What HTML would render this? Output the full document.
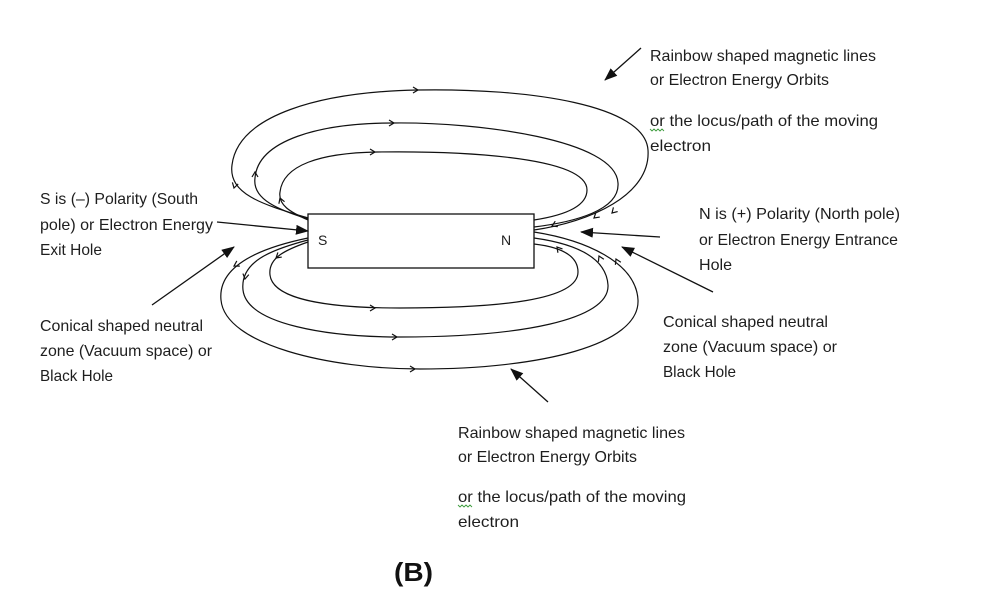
<!DOCTYPE html>
<html>
<head>
<meta charset="utf-8">
<style>
html,body{margin:0;padding:0;background:#fff;}
svg{display:block;}
text{font-family:"Liberation Sans",Arial,sans-serif;fill:#1e1e1e;}
</style>
</head>
<body>
<svg width="1000" height="606" viewBox="0 0 1000 606" xmlns="http://www.w3.org/2000/svg" font-size="16">
<defs>
<marker id="ah" markerUnits="userSpaceOnUse" markerWidth="14" markerHeight="12" refX="12" refY="5" orient="auto">
<path d="M0,0 L13,5 L0,10 Z" fill="#111"/>
</marker>
</defs>

<!-- Magnet -->
<rect x="308" y="214" width="226" height="54" fill="#fff" stroke="#111" stroke-width="1.3"/>
<text x="318" y="245" style="font-size:14px">S</text>
<text x="501" y="245" style="font-size:14px">N</text>

<g fill="none" stroke="#111" stroke-width="1.2">
<!-- top loops -->
<path d="M308,218 C265,205 228,195 232,165 C238,115 320,92 417,90 C530,88 645,105 648,150 C651,195 590,222 534,230"/>
<path d="M308,219 C280,210 252,200 255,178 C258,140 320,123 393,123 C480,122 616,140 618,183 C620,210 575,222 534,227"/>
<path d="M308,220 C290,212 278,205 280,192 C283,165 320,153 377,152 C450,151 587,155 587,190 C587,208 560,216 534,220"/>
<!-- bottom loops -->
<path d="M308,242 C285,250 268,258 270,275 C273,300 330,308 400,308 C500,308 578,300 578,272 C578,255 560,247 534,244"/>
<path d="M308,240 C270,250 240,262 243,290 C247,325 330,337 400,337 C520,337 610,320 608,285 C606,255 570,243 534,238"/>
<path d="M308,238 C250,250 218,270 221,300 C225,345 330,369 420,369 C540,369 640,345 638,300 C636,262 585,240 534,232"/>
</g>

<!-- small flow arrowheads -->
<g fill="none" stroke="#111" stroke-width="1.2">
<path d="M-5,-3 L0,0 L-5,3" transform="translate(418,90)"/>
<path d="M-5,-3 L0,0 L-5,3" transform="translate(394,123)"/>
<path d="M-5,-3 L0,0 L-5,3" transform="translate(375,152)"/>
<path d="M-5,-3 L0,0 L-5,3" transform="translate(375,308)"/>
<path d="M-5,-3 L0,0 L-5,3" transform="translate(397,337)"/>
<path d="M-5,-3 L0,0 L-5,3" transform="translate(415,369)"/>
<path d="M-5,-3 L0,0 L-5,3" transform="translate(234,188) rotate(105)"/>
<path d="M-5,-3 L0,0 L-5,3" transform="translate(255,172) rotate(-90)"/>
<path d="M-5,-3 L0,0 L-5,3" transform="translate(280,198) rotate(-110)"/>
<path d="M-5,-3 L0,0 L-5,3" transform="translate(594,218) rotate(140)"/>
<path d="M-5,-3 L0,0 L-5,3" transform="translate(612,213) rotate(135)"/>
<path d="M-5,-3 L0,0 L-5,3" transform="translate(552,226) rotate(155)"/>
<path d="M-5,-3 L0,0 L-5,3" transform="translate(276,258) rotate(140)"/>
<path d="M-5,-3 L0,0 L-5,3" transform="translate(245,279) rotate(100)"/>
<path d="M-5,-3 L0,0 L-5,3" transform="translate(234,266) rotate(150)"/>
<path d="M-5,-3 L0,0 L-5,3" transform="translate(557,247) rotate(-130)"/>
<path d="M-5,-3 L0,0 L-5,3" transform="translate(599,256) rotate(-115)"/>
<path d="M-5,-3 L0,0 L-5,3" transform="translate(616,259) rotate(-115)"/>
</g>

<!-- annotation arrows -->
<g stroke="#111" stroke-width="1.3" fill="none">
<line x1="641" y1="48" x2="605" y2="80" marker-end="url(#ah)"/>
<line x1="217" y1="222" x2="308" y2="231" marker-end="url(#ah)"/>
<line x1="152" y1="305" x2="234" y2="247" marker-end="url(#ah)"/>
<line x1="660" y1="237" x2="581" y2="232" marker-end="url(#ah)"/>
<line x1="713" y1="292" x2="622" y2="247" marker-end="url(#ah)"/>
<line x1="548" y1="402" x2="511" y2="369" marker-end="url(#ah)"/>
</g>

<!-- labels -->
<g style="font-size:16px">
<text x="650" y="61" textLength="226" lengthAdjust="spacingAndGlyphs">Rainbow shaped magnetic lines</text>
<text x="650" y="85" textLength="179" lengthAdjust="spacingAndGlyphs">or Electron Energy Orbits</text>
<text x="650" y="126" textLength="228" lengthAdjust="spacingAndGlyphs">or the locus/path of the moving</text>
<text x="650" y="151" textLength="61" lengthAdjust="spacingAndGlyphs">electron</text>

<text x="40" y="204" textLength="158" lengthAdjust="spacingAndGlyphs">S is (–) Polarity (South</text>
<text x="40" y="230" textLength="173" lengthAdjust="spacingAndGlyphs">pole) or Electron Energy</text>
<text x="40" y="255" textLength="62" lengthAdjust="spacingAndGlyphs">Exit Hole</text>

<text x="40" y="331" textLength="163" lengthAdjust="spacingAndGlyphs">Conical shaped neutral</text>
<text x="40" y="356" textLength="172" lengthAdjust="spacingAndGlyphs">zone (Vacuum space) or</text>
<text x="40" y="381" textLength="73" lengthAdjust="spacingAndGlyphs">Black Hole</text>

<text x="699" y="219" textLength="201" lengthAdjust="spacingAndGlyphs">N is (+) Polarity (North pole)</text>
<text x="699" y="245" textLength="199" lengthAdjust="spacingAndGlyphs">or Electron Energy Entrance</text>
<text x="699" y="270" textLength="33" lengthAdjust="spacingAndGlyphs">Hole</text>

<text x="663" y="327" textLength="165" lengthAdjust="spacingAndGlyphs">Conical shaped neutral</text>
<text x="663" y="352" textLength="174" lengthAdjust="spacingAndGlyphs">zone (Vacuum space) or</text>
<text x="663" y="377" textLength="73" lengthAdjust="spacingAndGlyphs">Black Hole</text>

<text x="458" y="438" textLength="227" lengthAdjust="spacingAndGlyphs">Rainbow shaped magnetic lines</text>
<text x="458" y="462" textLength="179" lengthAdjust="spacingAndGlyphs">or Electron Energy Orbits</text>
<text x="458" y="502" textLength="228" lengthAdjust="spacingAndGlyphs">or the locus/path of the moving</text>
<text x="458" y="527" textLength="61" lengthAdjust="spacingAndGlyphs">electron</text>
</g>

<!-- squiggle underlines -->
<g fill="none" stroke="#3a9a3a" stroke-width="0.9">
<path d="M650,129 l2,2 l2,-2 l2,2 l2,-2 l2,2 l2,-2 l2,2"/>
<path d="M458,505 l2,2 l2,-2 l2,2 l2,-2 l2,2 l2,-2 l2,2"/>
</g>

<text x="394" y="581" style="font-size:26px;font-weight:bold;fill:#111" textLength="39" lengthAdjust="spacingAndGlyphs">(B)</text>
</svg>
</body>
</html>
